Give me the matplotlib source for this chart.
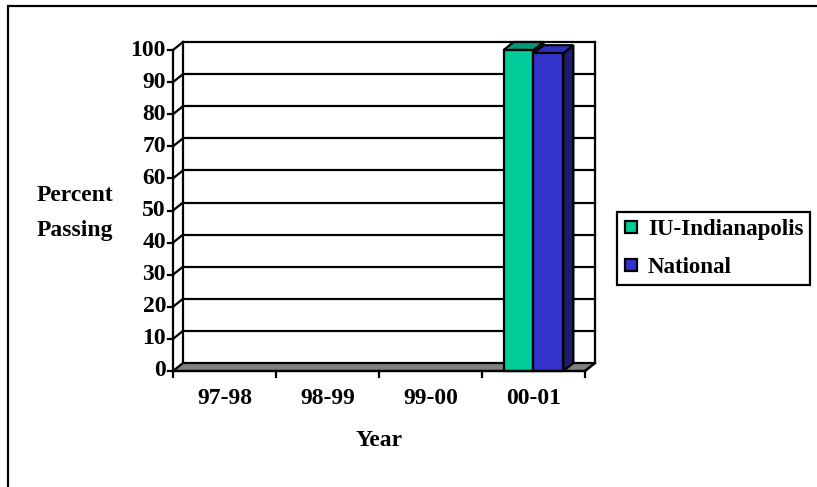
import matplotlib
matplotlib.use("Agg")
import matplotlib.pyplot as plt
from matplotlib.patches import Polygon, Rectangle
from matplotlib.lines import Line2D
import numpy as np

categories = ["97-98", "98-99", "99-00", "00-01"]
iu_values = [None, None, None, 100]
national_values = [None, None, None, 99]
series_names = ["IU-Indianapolis", "National"]
yticks = [0, 10, 20, 30, 40, 50, 60, 70, 80, 90, 100]

plt.rcParams['font.family'] = ['Liberation Serif', 'DejaVu Serif']
plt.rcParams['font.weight'] = 'bold'

W, H = 817, 487
FS = 17
fig = plt.figure(figsize=(W / 100, H / 100), dpi=100)
fig.patch.set_facecolor('white')

# outer border (extends beyond image on right/bottom)
fig.patches.append(Rectangle((8 / W, -0.05), 1.1, (1 - 6 / H) + 0.05, transform=fig.transFigure,
                             fill=False, lw=1.6, ec='black', zorder=0))

# axes = front plane
x0p, x1p, y0p, y1p = 173, 585, 371, 50
ax = fig.add_axes([x0p / W, 1 - y0p / H, (x1p - x0p) / W, (y0p - y1p) / H])
ax.set_xlim(0, len(categories))
ax.set_ylim(0, 100)
ax.axis('off')

# depth offset in data units (10 px right, 8 px up)
ppx = (x1p - x0p) / len(categories)
ppy = (y0p - y1p) / 100
dx = 10 / ppx
dy = 8 / ppy
nc = len(categories)
lw = 1.6
GREEN = '#00CC99'
GREEN_TOP = '#009977'
BLUE = '#3333CC'
BLUE_SIDE = '#1E1E6E'
BLUE_TOP = '#3030BB'

kw = dict(clip_on=False)
# back wall gridlines
for v in yticks[1:]:
    ax.plot([dx, nc + dx], [v + dy, v + dy], color='black', lw=lw, zorder=1, **kw)
    ax.plot([0, dx], [v, v + dy], color='black', lw=lw, zorder=1, **kw)
# back wall verticals
ax.plot([dx, dx], [dy, 100 + dy], color='black', lw=lw, zorder=1, **kw)
ax.plot([nc + dx, nc + dx], [dy, 100 + dy], color='black', lw=lw, zorder=1, **kw)
# floor
ax.add_patch(Polygon([(0, 0), (dx, dy), (nc + dx, dy), (nc, 0)], closed=True,
                     fc='#808080', ec='black', lw=lw, zorder=2, **kw))

# bars
bw = 0.29
xc = np.arange(nc) + 0.5
series = [(iu_values, GREEN, GREEN_TOP, '#007755', -1), (national_values, BLUE, BLUE_TOP, BLUE_SIDE, 0)]
z = 3
for vals, fc, topc, sidec, off in series:
    for i, v in enumerate(vals):
        if v is None:
            continue
        xl = xc[i] + off * bw
        xr = xl + bw
        # side
        ax.add_patch(Polygon([(xr, 0), (xr + dx, dy), (xr + dx, v + dy), (xr, v)], closed=True,
                             fc=sidec, ec='black', lw=lw, zorder=z, **kw))
        # top
        ax.add_patch(Polygon([(xl, v), (xr, v), (xr + dx, v + dy), (xl + dx, v + dy)], closed=True,
                             fc=topc, ec='black', lw=lw, zorder=z, **kw))
        ax.bar([xl], [v], width=bw, align='edge', color=fc, edgecolor='black', lw=lw,
               zorder=z + 0.5, clip_on=False)
    z += 1

# front axes
ax.plot([0, 0], [0, 100], color='black', lw=lw, zorder=10, **kw)
ax.plot([0, nc], [0, 0], color='black', lw=lw, zorder=10, **kw)
ax.plot([nc, nc + dx], [0, dy], color='black', lw=lw, zorder=10, **kw)
tl_x = 5 / ppx
tl_y = 6 / ppy
for v in yticks:
    ax.plot([-tl_x, 0], [v, v], color='black', lw=lw, zorder=10, **kw)
    ax.text(-tl_x - 2 / ppx, v, str(v), ha='right', va='center', fontsize=FS,
            fontweight='bold', clip_on=False)
for k in range(nc + 1):
    ax.plot([k, k], [0, -tl_y], color='black', lw=lw, zorder=10, **kw)
for i, c in enumerate(categories):
    ax.text(xc[i], -28 / ppy, c, ha='center', va='center', fontsize=FS, fontweight='bold')

fig.text(75 / W, 1 - 213 / H, "Percent\nPassing", ha='center', va='center', fontsize=FS,
         fontweight='bold', linespacing=1.85)
fig.text(379 / W, 1 - 441 / H, "Year", ha='center', va='center', fontsize=FS, fontweight='bold')

handles = [Line2D([], [], marker='s', ls='none', markersize=9, markerfacecolor=GREEN,
                  markeredgecolor='black', markeredgewidth=1.6),
           Line2D([], [], marker='s', ls='none', markersize=9, markerfacecolor=BLUE,
                  markeredgecolor='black', markeredgewidth=1.6)]
leg = fig.legend(handles, series_names, loc='upper left',
                 bbox_to_anchor=(617 / W, 1 - 212 / H), bbox_transform=fig.transFigure,
                 frameon=True, fancybox=False, shadow=False, borderpad=0.32,
                 handlelength=0.57, handletextpad=0.45, labelspacing=0.72, borderaxespad=0,
                 framealpha=1, prop={'size': 16.5, 'weight': 'bold'})
leg.get_frame().set_edgecolor('black')
leg.get_frame().set_linewidth(1.6)

fig.savefig("out.png", dpi=100, facecolor='white')
